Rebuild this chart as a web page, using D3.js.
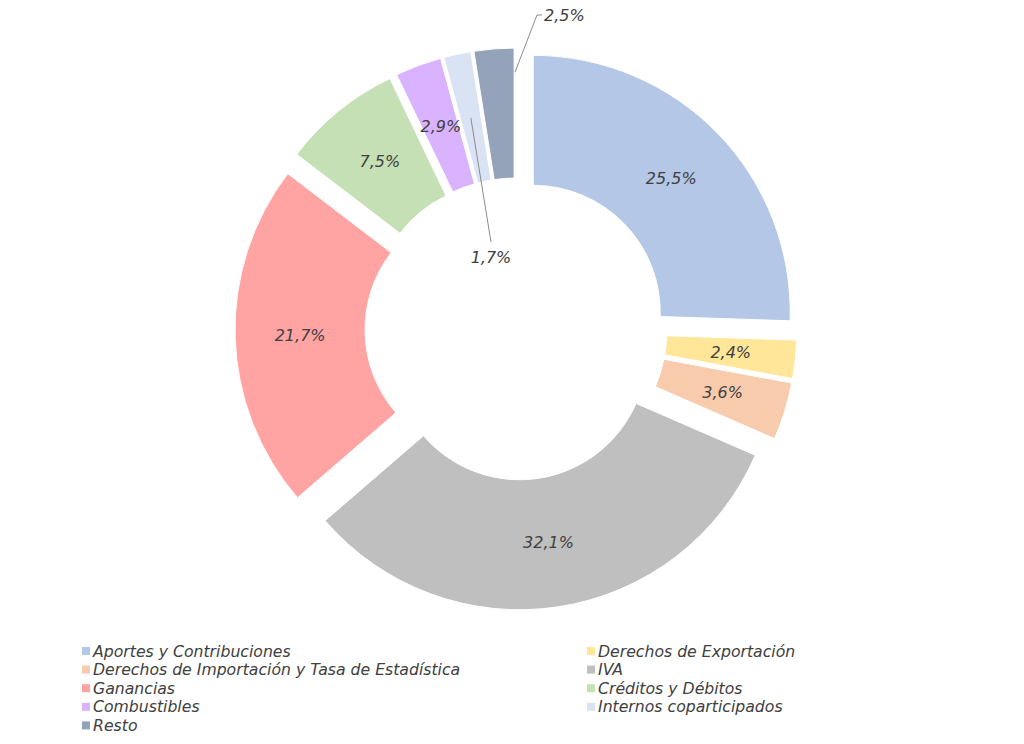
<!DOCTYPE html>
<html>
<head>
<meta charset="utf-8">
<script src="https://cdn.jsdelivr.net/npm/d3@7"></script>
<style>
  body { margin: 0; background: #fff; }
  text { font-family: "DejaVu Sans", sans-serif; font-style: italic; fill: #404040; }
</style>
</head>
<body>
<div id="chart"></div>
<script>
// data
const categories = [
  "Aportes y Contribuciones",
  "Derechos de Exportación",
  "Derechos de Importación y Tasa de Estadística",
  "IVA",
  "Ganancias",
  "Créditos y Débitos",
  "Combustibles",
  "Internos coparticipados",
  "Resto",
];
const shares = [25.5, 2.4, 3.6, 32.1, 21.7, 7.5, 2.9, 1.7, 2.5];
const colors = [
  "#b4c7e7", "#ffe699", "#f8cbad", "#bfbfbf", "#ffa3a3",
  "#c5e0b4", "#d9b3ff", "#dae3f3", "#94a3ba",
];

const data = categories.map((name, i) => ({ name, value: shares[i], color: colors[i] }));

// chart dimensions
const chartWidth = 1024;
const chartHeight = 744;
const cx = 516;
const cy = 329;
const outerR = 257;
const innerR = 127;
const explode = 24;

const svg = d3
  .select("#chart")
  .append("svg")
  .attr("width", chartWidth)
  .attr("height", chartHeight);

const g = svg.append("g").attr("transform", `translate(${cx}, ${cy})`);

const pie = d3.pie().sort(null).value((d) => d.value);
const arc = d3.arc().innerRadius(innerR).outerRadius(outerR);
const arcs = pie(data);

const fmt = (v) => `${v.toFixed(1).replace(".", ",")}%`;

// offset of each slice along its bisector
const shift = (d) => {
  const a = (d.startAngle + d.endAngle) / 2;
  return [Math.sin(a) * explode, -Math.cos(a) * explode];
};

// slices
g.selectAll(".slice")
  .data(arcs)
  .enter()
  .append("path")
  .attr("class", "slice")
  .attr("d", arc)
  .attr("transform", (d) => `translate(${shift(d)})`)
  .attr("fill", (d) => d.data.color)
  .attr("stroke", "#fff")
  .attr("stroke-width", 1);

const centroid = (d) => {
  const [x, y] = arc.centroid(d);
  const [dx, dy] = shift(d);
  return [x + dx, y + dy];
};

// labels inside slices
const inside = arcs.filter((d) => d.data.name !== "Internos coparticipados" && d.data.name !== "Resto");
g.selectAll(".label")
  .data(inside)
  .enter()
  .append("text")
  .attr("class", "label")
  .attr("x", (d) => centroid(d)[0])
  .attr("y", (d) => centroid(d)[1])
  .attr("dy", "0.35em")
  .attr("text-anchor", "middle")
  .style("font-size", "16px")
  .text((d) => fmt(d.data.value));

// labels with leader lines for the small slices
const internos = arcs.find((d) => d.data.name === "Internos coparticipados");
const resto = arcs.find((d) => d.data.name === "Resto");

const ci = centroid(internos);
g.append("path")
  .attr("d", d3.line()([ci, [491 - cx, 242 - cy]]))
  .attr("fill", "none")
  .attr("stroke", "#8c8c8c")
  .attr("stroke-width", 1);
g.append("text")
  .attr("x", 491 - cx)
  .attr("y", 257 - cy)
  .attr("dy", "0.35em")
  .attr("text-anchor", "middle")
  .style("font-size", "16px")
  .text(fmt(internos.data.value));

// Resto leader starts where it leaves the slice
const cr = centroid(resto);
const restoEnd = [537 - cx, 15 - cy];
const restoStart = d3.interpolate(cr, restoEnd)(0.42);
g.append("path")
  .attr("d", d3.line()([restoStart, restoEnd, [542 - cx, 15 - cy]]))
  .attr("fill", "none")
  .attr("stroke", "#8c8c8c")
  .attr("stroke-width", 1);
g.append("text")
  .attr("x", 544 - cx)
  .attr("y", 15 - cy)
  .attr("dy", "0.35em")
  .attr("text-anchor", "start")
  .style("font-size", "16px")
  .text(fmt(resto.data.value));

// legend, two columns
const legendX = [82, 587];
const legendY = 651;
const rowH = 18.6;

const legend = svg
  .selectAll(".legend")
  .data(data)
  .enter()
  .append("g")
  .attr("class", "legend")
  .attr("transform", (d, i) => `translate(${legendX[i % 2]}, ${legendY + Math.floor(i / 2) * rowH})`);

legend
  .append("rect")
  .attr("x", 0)
  .attr("y", -4)
  .attr("width", 8)
  .attr("height", 8)
  .attr("fill", (d) => d.color);

legend
  .append("text")
  .attr("x", 11)
  .attr("y", 0)
  .attr("dy", "0.35em")
  .style("font-size", "15.7px")
  .text((d) => d.name);
</script>
</body>
</html>
